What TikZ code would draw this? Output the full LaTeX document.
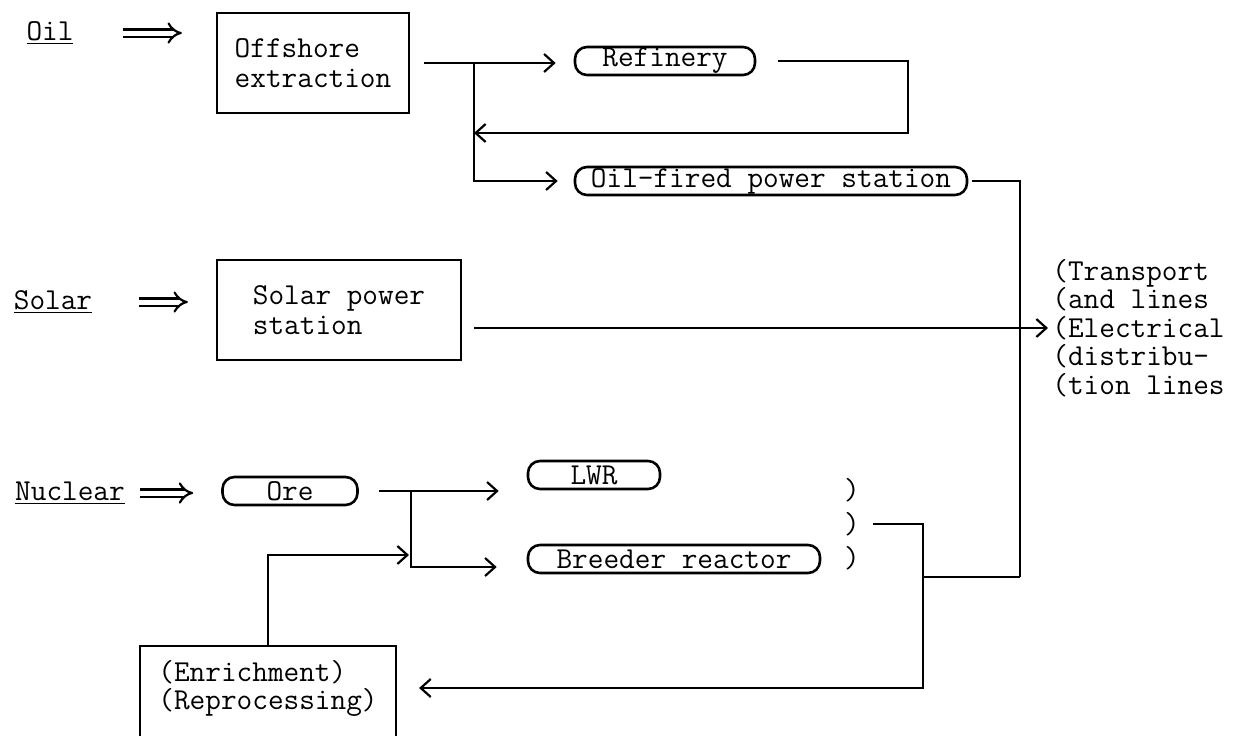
\documentclass[tikz,border=0pt]{standalone}
\usepackage{fontspec}
\usetikzlibrary{arrows.meta, positioning, calc}

\tikzset{
  txt/.style={font=\ttfamily\fontsize{15.2}{15}\selectfont},
  box/.style={txt, draw, line width=1.1pt, align=left, inner sep=0pt},
  pill/.style={txt, draw, line width=1.3pt, rounded corners=6pt, inner sep=0pt, minimum height=14pt},
  wire/.style={line width=1.1pt},
  flow/.style={wire, -{Straight Barb[length=5pt,width=9pt]}},
  feed/.style={double, double distance=2.5pt, line width=1.1pt, -{Implies}},
}

\begin{document}
\begin{tikzpicture}[x=0.5pt, y=-0.5pt]
  \clip (0,0) rectangle (1233,735);

  % Oil
  \node[txt] (oil) at (50,33) {\underline{Oil}};
  \node[box, minimum width=96pt, minimum height=50pt] (offshore) at (313,63) {Offshore\\extraction};
  \node[pill, minimum width=90pt] (refinery) at (665,61) {Refinery};
  \node[pill, minimum width=196pt] (oilfired) at (771,181) {Oil-fired power station};
  \coordinate (oilj) at (474,63);
  \coordinate (refb) at (908,133);
  \coordinate (bust) at (1020,181);
  \coordinate (busb) at (1020,577);

  \draw[feed, shorten <=21pt, shorten >=17pt] (oil) -- (oil -| offshore.west);
  \draw[flow, shorten <=7pt, shorten >=9pt] (offshore) -- (offshore -| refinery.west);
  \draw[flow, shorten >=8pt] (oilj) |- (oilfired.west);
  \draw[flow, shorten <=11pt] (refinery) -- (refinery -| refb) -- (refb) -- (refb -| oilj);
  \draw[wire, shorten <=2pt] (oilfired) -- (oilfired -| bust) -- (busb);

  % Solar
  \node[txt] (solar) at (53,302) {\underline{Solar}};
  \node[box, minimum width=122pt, minimum height=50pt] (solarps) at (339,310) {Solar power\\station};
  \node[txt, font=\ttfamily\fontsize{15.2}{14.2}\selectfont, anchor=west, align=left, inner xsep=2pt] (grid) at (1048,328)
    {(Transport\\(and lines\\(Electrical\\(distribu-\\(tion lines};

  \draw[feed, shorten <=20pt, shorten >=14pt] (solar) -- (solar -| solarps.west);
  \draw[flow, shorten <=6pt] (solarps.east |- grid.west) -- (grid.west);

  % Nuclear
  \node[txt] (nuclear) at (70,493) {\underline{Nuclear}};
  \node[pill, minimum width=67.5pt] (ore) at (290,491) {Ore};
  \node[pill, minimum width=66pt] (lwr) at (594,475) {LWR};
  \node[pill, minimum width=146pt] (breeder) at (674,559) {Breeder reactor};
  \node[txt] (p1) at (852,490) {)};
  \node[txt] (p2) at (852,524) {)};
  \node[txt] (p3) at (852,558) {)};
  \node[box, anchor=north, minimum width=128pt, inner ysep=7pt, text depth=45pt,
        font=\ttfamily\fontsize{15.2}{14}\selectfont] (enrich) at (268,645)
    {(Enrichment)\\(Reprocessing)};
  \coordinate (nj) at (411,491);
  \coordinate (nj2) at (411,567);
  \coordinate (ein) at (409,555);
  \coordinate (fb) at (923,524);
  \coordinate (fbb) at (923,688);

  \draw[feed, shorten <=4pt, shorten >=14pt] (nuclear) -- (nuclear -| ore.west);
  \draw[flow, shorten <=10pt, shorten >=14pt] (ore) -- (ore -| lwr.west);
  \draw[flow, shorten >=15pt] (nj) -- (nj2) -- (nj2 -| breeder.west);
  \draw[flow] (enrich.north) |- (ein);
  \draw[flow, shorten <=3pt, shorten >=11pt] (p2) -- (fb) -- (fbb) -- (fbb -| enrich.east);
  \draw[wire] (busb) -- (busb -| fb);
\end{tikzpicture}
\end{document}
